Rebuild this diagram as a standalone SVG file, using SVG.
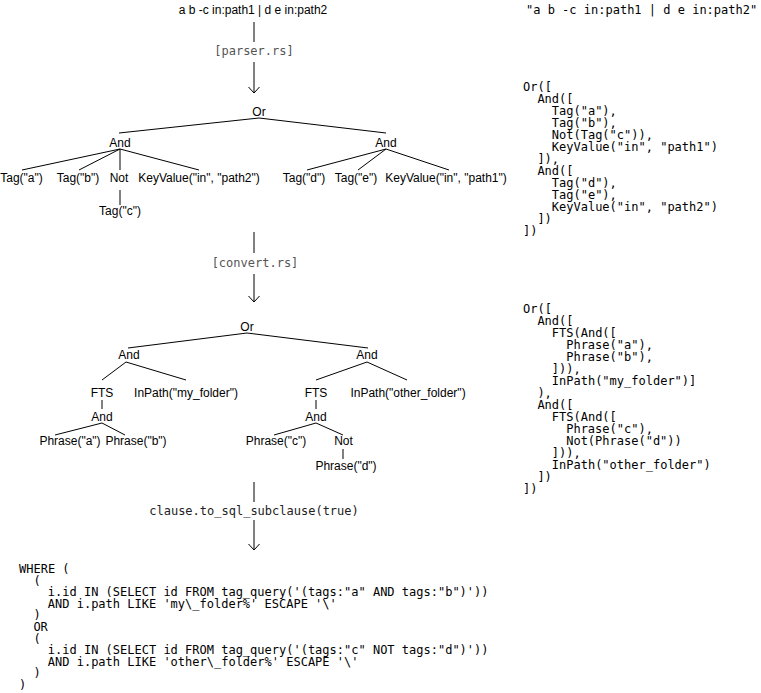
<svg xmlns="http://www.w3.org/2000/svg" width="761" height="693" viewBox="0 0 761 693">
<style>
  .n { font-family: "Liberation Sans", Arial, sans-serif; font-size: 12px; fill: #000; text-anchor: middle; }
  .lbl { font-family: "DejaVu Sans Mono", "Liberation Mono", monospace; font-size: 12px; fill: #555; text-anchor: middle; }
  .call { font-family: "DejaVu Sans Mono", "Liberation Mono", monospace; font-size: 12px; fill: #222; text-anchor: middle; }
  .code { font-family: "DejaVu Sans Mono", "Liberation Mono", monospace; font-size: 12px; fill: #000; }
  .e { stroke: #000; stroke-width: 1; fill: none; }
</style>
<defs>
  <marker id="arr" viewBox="0 0 8 12" refX="7" refY="6" markerWidth="8" markerHeight="12" markerUnits="userSpaceOnUse" orient="auto">
    <path d="M1,0.5 L7,6 L1,11.5" fill="none" stroke="#000" stroke-width="1"/>
  </marker>
</defs>
<rect width="761" height="693" fill="#fff"/>

<g id="connectors">
  <!-- stage 1 -->
  <line class="e" x1="254" y1="22" x2="254" y2="42"/>
  <line class="e" x1="254" y1="62" x2="254" y2="93" marker-end="url(#arr)"/>
  <line class="e" x1="259" y1="118" x2="119" y2="133"/>
  <line class="e" x1="259" y1="118" x2="386" y2="133"/>
  <line class="e" x1="120" y1="149" x2="22" y2="170"/>
  <line class="e" x1="120" y1="149" x2="79" y2="170"/>
  <line class="e" x1="120" y1="149" x2="120" y2="170"/>
  <line class="e" x1="120" y1="149" x2="199" y2="170"/>
  <line class="e" x1="120" y1="190" x2="120" y2="205"/>
  <line class="e" x1="386" y1="149" x2="307" y2="170"/>
  <line class="e" x1="386" y1="149" x2="358" y2="170"/>
  <line class="e" x1="386" y1="149" x2="449" y2="170"/>
  <!-- stage 2 -->
  <line class="e" x1="254" y1="232" x2="254" y2="253"/>
  <line class="e" x1="254" y1="274" x2="254" y2="302" marker-end="url(#arr)"/>
  <line class="e" x1="247" y1="333" x2="128" y2="348"/>
  <line class="e" x1="247" y1="333" x2="368" y2="348"/>
  <line class="e" x1="126" y1="362" x2="102" y2="380"/>
  <line class="e" x1="126" y1="362" x2="186" y2="380"/>
  <line class="e" x1="102" y1="400" x2="102" y2="409"/>
  <line class="e" x1="102" y1="423" x2="55" y2="435"/>
  <line class="e" x1="102" y1="423" x2="125" y2="435"/>
  <line class="e" x1="367" y1="362" x2="316" y2="380"/>
  <line class="e" x1="367" y1="362" x2="407" y2="380"/>
  <line class="e" x1="316" y1="400" x2="316" y2="409"/>
  <line class="e" x1="316" y1="423" x2="274" y2="435"/>
  <line class="e" x1="316" y1="423" x2="343" y2="435"/>
  <line class="e" x1="343" y1="449" x2="343" y2="459"/>
  <!-- stage 3 -->
  <line class="e" x1="254" y1="482" x2="254" y2="502"/>
  <line class="e" x1="254" y1="520" x2="254" y2="550" marker-end="url(#arr)"/>
</g>

<g id="query"><text class="n" x="253" y="14">a b -c in:path1 | d e in:path2</text></g>
<g id="step-parser"><text class="lbl" x="254" y="55">[parser.rs]</text></g>

<g id="p-or"><text class="n" x="259" y="116">Or</text></g>
<g id="p-and1"><text class="n" x="120" y="147">And</text></g>
<g id="p-and2"><text class="n" x="386" y="147">And</text></g>
<g id="p-tag-a"><text class="n" x="21.5" y="182">Tag("a")</text></g>
<g id="p-tag-b"><text class="n" x="78" y="182">Tag("b")</text></g>
<g id="p-not"><text class="n" x="119" y="182">Not</text></g>
<g id="p-kv2"><text class="n" x="199" y="182">KeyValue("in", "path2")</text></g>
<g id="p-tag-c"><text class="n" x="120" y="215">Tag("c")</text></g>
<g id="p-tag-d"><text class="n" x="304" y="182">Tag("d")</text></g>
<g id="p-tag-e"><text class="n" x="356" y="182">Tag("e")</text></g>
<g id="p-kv1"><text class="n" x="446" y="182">KeyValue("in", "path1")</text></g>

<g id="step-convert"><text class="lbl" x="255" y="267">[convert.rs]</text></g>

<g id="c-or"><text class="n" x="247" y="331">Or</text></g>
<g id="c-and1"><text class="n" x="129" y="359">And</text></g>
<g id="c-and2"><text class="n" x="367" y="359">And</text></g>
<g id="c-fts1"><text class="n" x="102" y="397">FTS</text></g>
<g id="c-inpath1"><text class="n" x="186" y="397">InPath("my_folder")</text></g>
<g id="c-and3"><text class="n" x="102" y="421">And</text></g>
<g id="c-phrase-a"><text class="n" x="70" y="445">Phrase("a")</text></g>
<g id="c-phrase-b"><text class="n" x="136" y="445">Phrase("b")</text></g>
<g id="c-fts2"><text class="n" x="316" y="397">FTS</text></g>
<g id="c-inpath2"><text class="n" x="408" y="397">InPath("other_folder")</text></g>
<g id="c-and4"><text class="n" x="316" y="421">And</text></g>
<g id="c-phrase-c"><text class="n" x="276" y="445">Phrase("c")</text></g>
<g id="c-not"><text class="n" x="343.5" y="445">Not</text></g>
<g id="c-phrase-d"><text class="n" x="346" y="470">Phrase("d")</text></g>

<g id="step-sql"><text class="call" x="254" y="515">clause.to_sql_subclause(true)</text></g>

<g id="code-query"><text class="code" x="526" y="14">"a b -c in:path1 | d e in:path2"</text></g>

<g id="code-parsed">
  <text class="code">
    <tspan x="523" y="91">Or([</tspan>
    <tspan x="537.4" y="103">And([</tspan>
    <tspan x="551.8" y="115">Tag("a"),</tspan>
    <tspan x="551.8" y="127">Tag("b"),</tspan>
    <tspan x="551.8" y="139">Not(Tag("c")),</tspan>
    <tspan x="551.8" y="151">KeyValue("in", "path1")</tspan>
    <tspan x="537.4" y="163">]),</tspan>
    <tspan x="537.4" y="175">And([</tspan>
    <tspan x="551.8" y="187">Tag("d"),</tspan>
    <tspan x="551.8" y="199">Tag("e"),</tspan>
    <tspan x="551.8" y="211">KeyValue("in", "path2")</tspan>
    <tspan x="537.4" y="223">])</tspan>
    <tspan x="523" y="235">])</tspan>
  </text>
</g>

<g id="code-converted">
  <text class="code">
    <tspan x="523" y="313">Or([</tspan>
    <tspan x="537.4" y="325">And([</tspan>
    <tspan x="551.8" y="337">FTS(And([</tspan>
    <tspan x="566.2" y="349">Phrase("a"),</tspan>
    <tspan x="566.2" y="361">Phrase("b"),</tspan>
    <tspan x="551.8" y="373">])),</tspan>
    <tspan x="551.8" y="385">InPath("my_folder")]</tspan>
    <tspan x="537.4" y="397">),</tspan>
    <tspan x="537.4" y="409">And([</tspan>
    <tspan x="551.8" y="421">FTS(And([</tspan>
    <tspan x="566.2" y="433">Phrase("c"),</tspan>
    <tspan x="566.2" y="445">Not(Phrase("d"))</tspan>
    <tspan x="551.8" y="457">])),</tspan>
    <tspan x="551.8" y="469">InPath("other_folder")</tspan>
    <tspan x="537.4" y="481">])</tspan>
    <tspan x="523" y="493">])</tspan>
  </text>
</g>

<g id="code-sql">
  <text class="code">
    <tspan x="19" y="573">WHERE (</tspan>
    <tspan x="33.4" y="584.6">(</tspan>
    <tspan x="47.8" y="596.2">i.id IN (SELECT id FROM tag_query('(tags:"a" AND tags:"b")'))</tspan>
    <tspan x="47.8" y="607.8">AND i.path LIKE 'my\_folder%' ESCAPE '\'</tspan>
    <tspan x="33.4" y="619.4">)</tspan>
    <tspan x="33.4" y="631">OR</tspan>
    <tspan x="33.4" y="642.6">(</tspan>
    <tspan x="47.8" y="654.2">i.id IN (SELECT id FROM tag_query('(tags:"c" NOT tags:"d")'))</tspan>
    <tspan x="47.8" y="665.8">AND i.path LIKE 'other\_folder%' ESCAPE '\'</tspan>
    <tspan x="33.4" y="677.4">)</tspan>
    <tspan x="19" y="689">)</tspan>
  </text>
</g>
</svg>
